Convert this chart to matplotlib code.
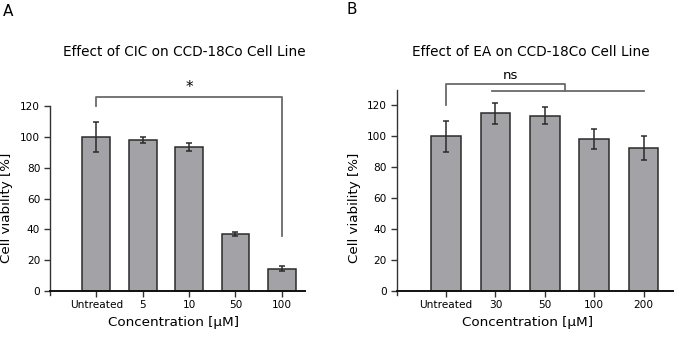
import matplotlib
matplotlib.use("Agg")
import matplotlib.pyplot as plt
import numpy as np

# CIC treatment
cic_labels = ["Untreated", "5", "10", "50", "100"]
cic_mean = [100.0, 98.0, 93.7, 37.0, 14.5]
cic_err = [9.8, 2.0, 2.7, 1.0, 1.4]

# EA treatment
ea_labels = ["Untreated", "30", "50", "100", "200"]
ea_mean = [100.0, 114.8, 113.1, 98.0, 92.4]
ea_err = [10.1, 6.8, 5.5, 6.6, 7.5]

BAR_COLOR = "#a2a2a7"
EDGE_COLOR = "#2b2b2b"
BRACKET_COLOR = "#6a6a6a"
TICK_FS = 7.6
LABEL_FS = 9.7
TITLE_FS = 9.8

fig = plt.figure(figsize=(6.93, 3.37), dpi=100)
W, H = 693.0, 337.0


def px_axes(x0, x1, ytop, ybot):
    return fig.add_axes([x0 / W, 1 - ybot / H, (x1 - x0) / W, (ybot - ytop) / H])


def draw_panel(ax, labels, means, errs, xlim, ylim, yticks, xlab_pos, ylab_pos):
    for s in ("top", "right"):
        ax.spines[s].set_visible(False)
    ax.spines["bottom"].set_position(("data", 0))
    ax.spines["bottom"].set_linewidth(1.4)
    ax.spines["bottom"].set_color("#111111")
    ax.spines["left"].set_linewidth(1.0)
    ax.spines["left"].set_color("#333333")

    x = np.arange(len(labels))
    ax.bar(x, means, width=0.6, color=BAR_COLOR, edgecolor=EDGE_COLOR,
           linewidth=1.1, zorder=2)
    ax.errorbar(x, means, yerr=errs, fmt="none", ecolor=EDGE_COLOR,
                elinewidth=1.1, capsize=2.2, capthick=1.1, zorder=3)
    ax.set_xlim(*xlim)
    ax.set_ylim(*ylim)
    ax.set_xticks(x)
    ax.set_xticklabels(labels, fontsize=TICK_FS)
    ax.set_yticks(yticks)
    ax.set_yticklabels([str(v) for v in yticks], fontsize=TICK_FS)
    ax.tick_params(axis="both", length=4, width=1.0, color="#333333", pad=3)
    ax.tick_params(axis="x", pad=2.5)
    ax.set_facecolor("none")

    ax.set_xlabel("Concentration [µM]", fontsize=LABEL_FS)
    ax.set_ylabel("Cell viability [%]", fontsize=LABEL_FS)
    ax.xaxis.set_label_coords(*xlab_pos)
    ax.yaxis.set_label_coords(*ylab_pos)
    ax.xaxis.label.set_va("center")
    ax.yaxis.label.set_va("center")


# Panel A
axA = px_axes(50, 305, 106.3, 294.8)
draw_panel(axA, cic_labels, cic_mean, cic_err, (-1, 4.5), (-2.5, 120),
           [0, 20, 40, 60, 80, 100, 120], (0.486, -0.148), (-0.17, 0.46))
axA.plot([0, 0, 4, 4], [120.2, 126.3, 126.3, 35.7], color=BRACKET_COLOR,
         lw=1.3, clip_on=False, zorder=4)
axA.text(2, 132.5, "*", ha="center", va="center", fontsize=11, clip_on=False)

# Panel B
axB = px_axes(396.7, 673.3, 89.85, 294.6)
draw_panel(axB, ea_labels, ea_mean, ea_err, (-1, 4.6), (-2.5, 130),
           [0, 20, 40, 60, 80, 100, 120], (0.474, -0.137), (-0.154, 0.423))
axB.plot([0, 0, 2.4, 2.4], [120.2, 133.8, 133.8, 129.3], color=BRACKET_COLOR,
         lw=1.3, clip_on=False, zorder=4)
axB.plot([0.93, 4.0], [129.3, 129.3], color=BRACKET_COLOR, lw=1.3,
         clip_on=False, zorder=4)
axB.text(1.3, 139.5, "ns", ha="center", va="center", fontsize=9.5,
         clip_on=False)

# Titles and panel letters
fig.text(184.7 / W, 1 - 51.7 / H, "Effect of CIC on CCD-18Co Cell Line",
         ha="center", va="center", fontsize=TITLE_FS)
fig.text(530.5 / W, 1 - 51.7 / H, "Effect of EA on CCD-18Co Cell Line",
         ha="center", va="center", fontsize=TITLE_FS)
fig.text(3 / W, 1 - 11.5 / H, "A", ha="left", va="center", fontsize=11)
fig.text(347 / W, 1 - 9.5 / H, "B", ha="left", va="center", fontsize=11)

fig.savefig("out.png", dpi=100, facecolor="white")
